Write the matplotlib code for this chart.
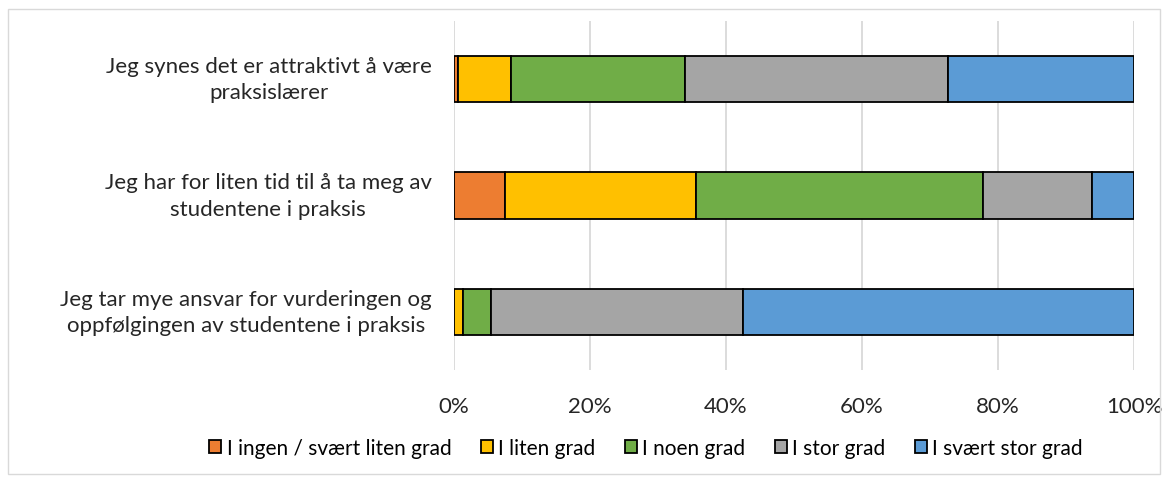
import numpy as np
import matplotlib.pyplot as plt
from matplotlib.patches import Rectangle

# Survey statements (top to bottom) and shares per answer category (%)
statements = ['Jeg synes det er attraktivt å være\npraksislærer',
              'Jeg har for liten tid til å ta meg av\nstudentene i praksis',
              'Jeg tar mye ansvar for vurderingen og\noppfølgingen av studentene i praksis']
categories = ['I ingen / svært liten grad', 'I liten grad', 'I noen grad',
              'I stor grad', 'I svært stor grad']
ingen = [0.6, 7.5, 0.0]
liten = [7.8, 28.1, 1.3]
noen = [25.5, 42.2, 4.2]
stor = [38.8, 16.0, 37.0]
svaert_stor = [27.3, 6.2, 57.5]
colors = ['#ED7D31', '#FFC000', '#70AD47', '#A5A5A5', '#5B9BD5']
ticks = [0, 20, 40, 60, 80, 100]

plt.rcParams['font.family'] = ['Lato', 'DejaVu Sans']

fig = plt.figure(figsize=(11.67, 4.81), dpi=100)
ax = fig.add_axes([454 / 1167, 1 - 371 / 481, 680 / 1167, 349 / 481])

series = [ingen, liten, noen, stor, svaert_stor]
y = np.arange(len(statements))
left = np.zeros(len(statements))
for vals, col, lab in zip(series, colors, categories):
    vals = np.array(vals)
    ax.barh(y, vals, left=left, height=0.4, color=col, edgecolor='black',
            linewidth=1.3, label=lab, zorder=3)
    left += vals

ax.set_xlim(0, 100)
ax.set_ylim(len(statements) - 0.5, -0.5)
ax.set_yticks(y)
ax.set_yticklabels(statements, fontsize=16, ha='right', va='center',
                   multialignment='center', color='#262626', linespacing=1.4)
ax.tick_params(axis='y', length=0, pad=16)
ax.set_xticks(ticks)
ax.set_xticklabels([f'{t}%' for t in ticks], fontsize=16, color='#262626')
ax.tick_params(axis='x', length=0, pad=19)
ax.grid(axis='x', color='#D9D9D9', linewidth=1.3, zorder=0)
for s in ax.spines.values():
    s.set_visible(False)

ax.legend(loc='center', bbox_to_anchor=(646 / 1167, 1 - 449 / 481),
          bbox_transform=fig.transFigure, ncol=5, frameon=False, fontsize=15,
          handlelength=0.6, handleheight=0.6, handletextpad=0.25, columnspacing=1.4)

fig.add_artist(Rectangle((8 / 1167, 6 / 481), 1152 / 1167, 465 / 481,
                         transform=fig.transFigure, fill=False,
                         edgecolor='#D9D9D9', linewidth=1))

fig.savefig('out.png', dpi=100)
